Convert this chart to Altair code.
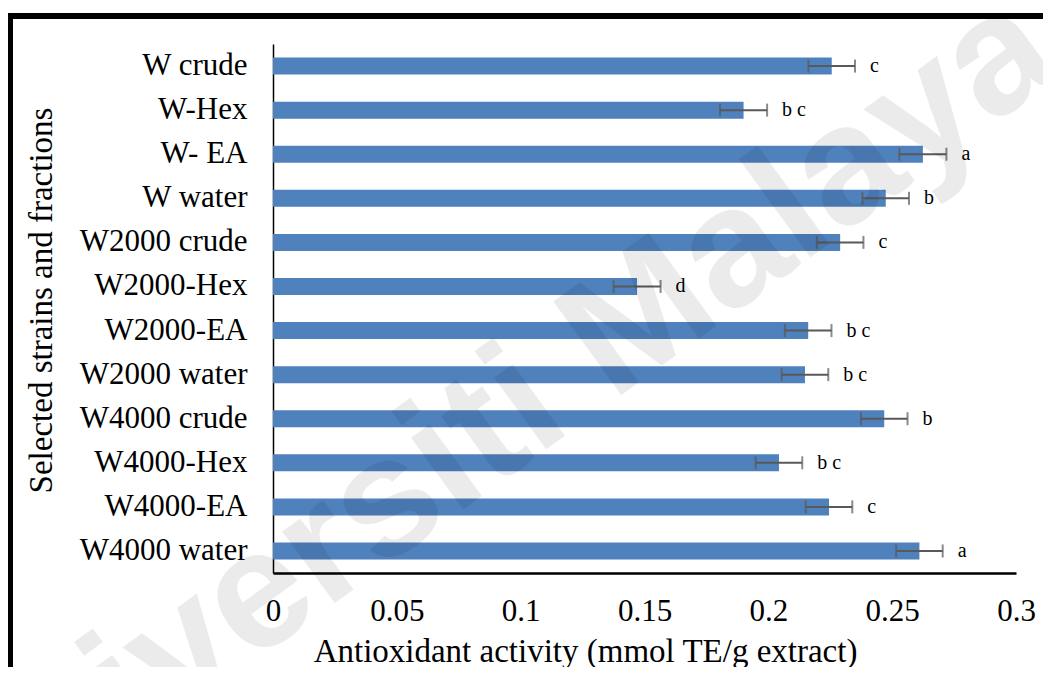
import altair as alt
import pandas as pd

categories = ["W crude", "W-Hex", "W- EA", "W water", "W2000 crude", "W2000-Hex",
              "W2000-EA", "W2000 water", "W4000 crude", "W4000-Hex", "W4000-EA", "W4000 water"]
values = [0.2256, 0.190, 0.2624, 0.2474, 0.229, 0.147,
          0.2161, 0.2148, 0.2468, 0.2043, 0.2245, 0.261]
errors = [0.0094, 0.0095, 0.0095, 0.0094, 0.0094, 0.0095,
          0.0094, 0.0094, 0.0094, 0.0094, 0.0094, 0.0094]
letters = ["c", "b c", "a", "b", "c", "d", "b c", "b c", "b", "b c", "c", "a"]
x_ticks = [0, 0.05, 0.1, 0.15, 0.2, 0.25, 0.3]

df = pd.DataFrame({"sample": categories, "value": values, "err": errors, "letter": letters})

SERIF = "Liberation Serif"

y_enc = alt.Y("sample:N", sort=categories, title="Selected strains and fractions",
              axis=alt.Axis(domainColor="black", domainWidth=1.5, ticks=False, tickSize=0,
                            grid=False, labelFont=SERIF, labelFontSize=31, labelColor="black",
                            labelPadding=26, titleFont=SERIF, titleFontSize=33,
                            titleFontWeight="normal", titleColor="black",
                            titleX=-232, titleY=256, titleAngle=270,
                            titleBaseline="middle", titleAlign="center"))

base = alt.Chart(df).transform_calculate(
    lo="datum.value - datum.err", hi="datum.value + datum.err")

bars = base.mark_bar(size=17, color="#4f81bd").encode(
    x=alt.X("value:Q", scale=alt.Scale(domain=[0, 0.3], nice=False),
            title="Antioxidant activity (mmol TE/g extract)",
            axis=alt.Axis(values=x_ticks, format="~g", domainColor="black", domainWidth=2.5,
                          ticks=False, tickSize=0, grid=False, labelFont=SERIF,
                          labelFontSize=31, labelColor="black", labelBaseline="alphabetic",
                          labelPadding=47, labelFlush=False, labelOverlap=False,
                          titleFont=SERIF, titleFontSize=33, titleFontWeight="normal",
                          titleColor="black", titleX=312, titleY=88,
                          titleBaseline="alphabetic", titleAlign="center")),
    y=y_enc,
)

err_line = base.mark_rule(color="#595959", strokeWidth=2).encode(
    x="lo:Q", x2="hi:Q", y=alt.Y("sample:N", sort=categories))
cap_lo = base.mark_tick(color="#595959", thickness=2, size=13).encode(
    x="lo:Q", y=alt.Y("sample:N", sort=categories))
cap_hi = base.mark_tick(color="#595959", thickness=2, size=13).encode(
    x="hi:Q", y=alt.Y("sample:N", sort=categories))
labels = base.mark_text(align="left", baseline="middle", dx=15, font=SERIF,
                        fontSize=20, color="black").encode(
    x="hi:Q", y=alt.Y("sample:N", sort=categories), text="letter:N")

wm = alt.Chart(pd.DataFrame({"t": ["Universiti Malaya"]})).mark_text(
    angle=324, fontSize=168, font="Liberation Sans", fontWeight="bold",
    color="black", opacity=0.075,
    align="center", baseline="middle").encode(
    x=alt.value(208), y=alt.value(391), text="t:N")

frame_top = alt.Chart(pd.DataFrame({"a": [0]})).mark_rule(color="black", strokeWidth=6).encode(
    x=alt.value(-270), x2=alt.value(780), y=alt.value(-28))
frame_left = alt.Chart(pd.DataFrame({"a": [0]})).mark_rule(color="black", strokeWidth=6).encode(
    x=alt.value(-263), y=alt.value(-31), y2=alt.value(640))

chart = alt.layer(bars, err_line, cap_lo, cap_hi, labels, wm, frame_top, frame_left).properties(
    width=743, height=529,
    autosize=alt.AutoSizeParams(type="none"),
    padding={"left": 265, "top": 36, "right": 27, "bottom": 94},
    background="white",
).configure_view(stroke=None)

chart.save("out.html", embed_options={"renderer": "svg", "actions": False})
